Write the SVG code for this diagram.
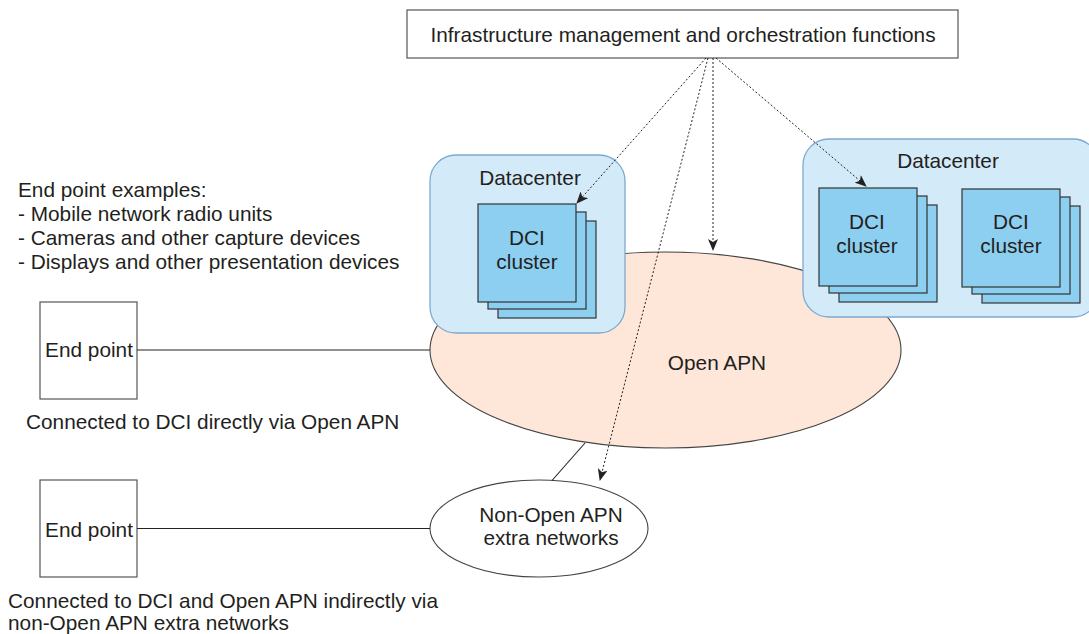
<svg xmlns="http://www.w3.org/2000/svg" width="1089" height="634" viewBox="0 0 1089 634">
  <defs>
    <style>
      text { font-family: "Liberation Sans", Arial, sans-serif; font-size: 20.8px; fill: #231f20; }
      .mid { text-anchor: middle; }
      .box { fill: #ffffff; stroke: #555555; stroke-width: 1.2; }
      .dc { fill: #d3eaf8; stroke: #7ea9d0; stroke-width: 1.3; }
      .dci { fill: #8dcff1; stroke: #333333; stroke-width: 1.2; }
      .apn { fill: #fee6d8; stroke: #444444; stroke-width: 1.1; }
      .extra { fill: #ffffff; stroke: #444444; stroke-width: 1.1; }
      .link { stroke: #222222; stroke-width: 1.1; fill: none; }
      .ctl { stroke: #222222; stroke-width: 1; stroke-dasharray: 2 2; fill: none; marker-end: url(#head); }
    </style>
    <marker id="head" viewBox="0 0 12 10" refX="11" refY="5" markerWidth="12" markerHeight="10" markerUnits="userSpaceOnUse" orient="auto">
      <path d="M0,0 L12,5 L0,10 L3,5 Z" fill="#222222"/>
    </marker>
    <!-- stacked DCI cluster: three offset squares -->
    <g id="stack">
      <rect class="dci" x="20" y="17" width="98" height="97"/>
      <rect class="dci" x="10" y="8" width="98" height="97"/>
      <rect class="dci" x="0" y="0" width="98" height="98"/>
    </g>
  </defs>

  <rect width="1089" height="634" fill="#ffffff"/>

  <!-- Open APN core network -->
  <g id="open-apn">
    <ellipse class="apn" cx="665.5" cy="350" rx="235.5" ry="98"/>
    <text class="mid" x="717" y="370">Open APN</text>
  </g>

  <!-- Datacenter (left) -->
  <g id="datacenter-left">
    <rect class="dc" x="430" y="155" width="195" height="178" rx="26"/>
    <text class="mid" x="530" y="185">Datacenter</text>
    <g id="dci-left">
      <use href="#stack" x="478" y="204"/>
      <text class="mid" x="527" y="245">DCI</text>
      <text class="mid" x="527" y="269">cluster</text>
    </g>
  </g>

  <!-- Datacenter (right) -->
  <g id="datacenter-right">
    <rect class="dc" x="803" y="139" width="296" height="178" rx="26"/>
    <text class="mid" x="948" y="168">Datacenter</text>
    <g id="dci-right-1">
      <use href="#stack" x="819" y="188"/>
      <text class="mid" x="867" y="229">DCI</text>
      <text class="mid" x="867" y="253">cluster</text>
    </g>
    <g id="dci-right-2">
      <use href="#stack" x="962" y="189"/>
      <text class="mid" x="1011" y="229">DCI</text>
      <text class="mid" x="1011" y="253">cluster</text>
    </g>
  </g>

  <!-- Non-Open APN extra networks -->
  <g id="extra-networks">
    <ellipse class="extra" cx="539" cy="528.5" rx="109" ry="48.5"/>
    <text class="mid" x="551" y="522">Non-Open APN</text>
    <text class="mid" x="551" y="545">extra networks</text>
  </g>

  <!-- Management and orchestration -->
  <g id="orchestration">
    <rect class="box" x="407" y="10" width="551" height="48"/>
    <text class="mid" x="683" y="42">Infrastructure management and orchestration functions</text>
  </g>

  <!-- End points -->
  <g id="endpoint-direct">
    <rect class="box" x="40" y="302" width="97" height="97"/>
    <text class="mid" x="89" y="357">End point</text>
    <text x="26" y="429">Connected to DCI directly via Open APN</text>
  </g>
  <g id="endpoint-indirect">
    <rect class="box" x="40" y="480" width="97" height="97"/>
    <text class="mid" x="89" y="537">End point</text>
    <text x="8" y="608">Connected to DCI and Open APN indirectly via</text>
    <text x="8" y="630">non-Open APN extra networks</text>
  </g>

  <g id="examples">
    <text x="18" y="197">End point examples:</text>
    <text x="18" y="221">- Mobile network radio units</text>
    <text x="18" y="245">- Cameras and other capture devices</text>
    <text x="18" y="269">- Displays and other presentation devices</text>
  </g>

  <!-- Connectors -->
  <g id="connectors">
    <line class="link" x1="137" y1="350" x2="430" y2="350"/>
    <line class="link" x1="137" y1="528.5" x2="430" y2="528.5"/>
    <line class="link" x1="585" y1="443" x2="552" y2="480.5"/>
    <line class="ctl" x1="706" y1="58" x2="577" y2="203"/>
    <line class="ctl" x1="708" y1="58" x2="600" y2="480"/>
    <line class="ctl" x1="713" y1="58" x2="713" y2="250"/>
    <line class="ctl" x1="716" y1="58" x2="866" y2="186"/>
  </g>
</svg>
